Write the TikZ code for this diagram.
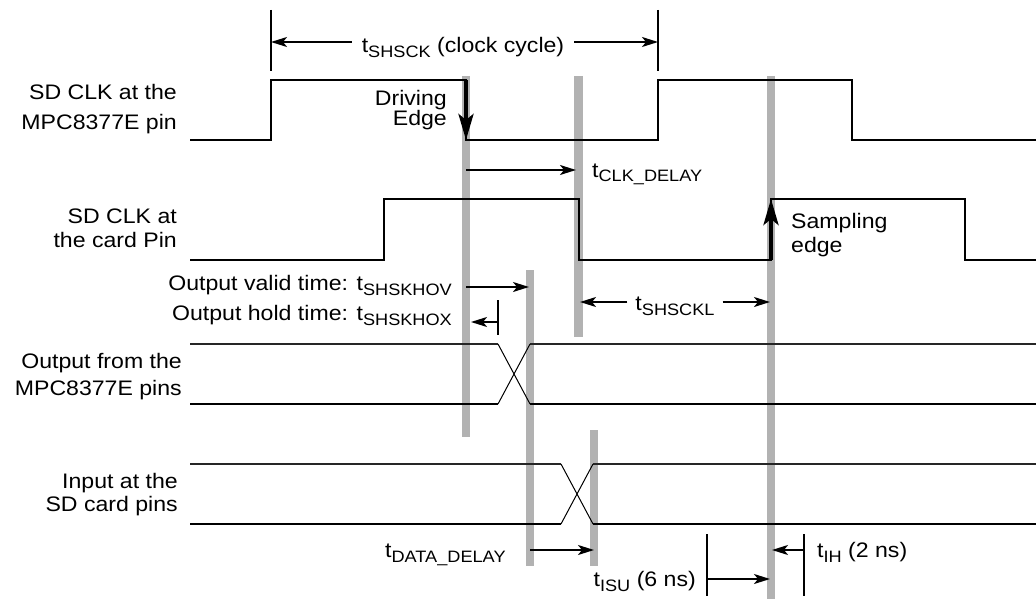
\documentclass[tikz,border=0pt]{standalone}
\usepackage{fontspec}
\setmainfont{Liberation Sans}[FakeStretch=1.1]
\usetikzlibrary{positioning,calc,arrows.meta}
\definecolor{bargray}{gray}{0.70}
\newcommand{\lblfont}{\fontsize{21}{24}\selectfont}
\newcommand{\tsub}[1]{\raisebox{-5pt}{\fontsize{16.5}{17}\selectfont #1}}
\tikzset{
  wave/.style={line width=2pt, line join=miter},
  bushi/.style={line width=1.4pt, draw=black!85},
  buslo/.style={line width=2pt},
  swap/.style={line width=1pt},
  bar/.style={line width=8.5pt, draw=bargray},
  edge arrow/.style={line width=4pt, -{Stealth[length=26pt,width=15pt,inset=6pt]}},
  dim/.style={line width=1.8pt, -{Stealth[length=16pt,width=10pt,inset=4pt]}},
  tickmark/.style={line width=2pt},
  lbl/.style={font=\lblfont, inner sep=0pt},
  sig/.style={lbl, align=right, anchor=base east},
}

\begin{document}
\begin{tikzpicture}[x=1pt,y=-1pt]
    \useasboundingbox (0,0) rectangle (1036,599);
    % gray timing marks
    \foreach \bx/\by/\be in {466/76/437, 578.5/76/337, 771/76/599, 530/270/566, 594/430/566}
    {
        \draw[bar] (\bx,\by) -- (\bx,\be);
    }

    % signal names (base = last line)
    \node[sig, font={\fontsize{21}{30}\selectfont}] (clka) at (177,130) {SD CLK at the\\MPC8377E pin};
    \node[sig, font={\fontsize{21}{24}\selectfont}] (clkb) at (177,247) {SD CLK at\\the card Pin};
    \node[sig, font={\fontsize{21}{27}\selectfont}] (dout) at (182,395) {Output from the\\MPC8377E pins};
    \node[sig, font={\fontsize{21}{23}\selectfont}] (din) at (178,511) {Input at the\\SD card pins};

    % clocks
    \draw[wave] (190,140) -- (271,140) -- (271,80) -- (466,80) -- (466,140) -- (658,140)
        -- (658,80) -- (852,80) -- (852,140) -- (1036,140);
    \draw[wave] (190,260) -- (384,260) -- (384,199) -- (578.5,199) -- (578.5,260) -- (771,260)
        -- (771,199) -- (965,199) -- (965,260) -- (1036,260);
    \draw[edge arrow] (466,80) -- (466,140);
    \draw[edge arrow] (771,260) -- (771,199);
    \node[lbl, align=right, anchor=base east, font={\fontsize{21}{17}\selectfont}] (drv) at (447,126) {Driving\\Edge};
    \node[lbl, align=left, anchor=base west] (smp) at (791,252) {Sampling\\edge};

    % data
    \draw[bushi] (190,344) -- (498,344);
    \draw[bushi] (530,344) -- (1036,344);
    \draw[buslo] (190,404) -- (498,404);
    \draw[buslo] (530,404) -- (1036,404);
    \draw[swap] (498,344) -- (530,404);
    \draw[swap] (498,404) -- (530,344);
    \draw[bushi] (190,464) -- (561,464);
    \draw[bushi] (593,464) -- (1036,464);
    \draw[buslo] (190,524) -- (561,524);
    \draw[buslo] (593,524) -- (1036,524);
    \draw[swap] (561,464) -- (593,524);
    \draw[swap] (561,524) -- (593,464);

    % clock cycle
    \coordinate (cycl) at (271,42);
    \coordinate (cycr) at (658,42);
    \draw[tickmark] (271,10) -- (271,71);
    \draw[tickmark] (658,10) -- (658,71);
    \node[lbl, anchor=base] (cyc) at (463,53) {t\tsub{SHSCK} (clock cycle)};
    \draw[dim] (cyc.west |- cycl) ++(-10,0) -- (cycl);
    \draw[dim] (cyc.east |- cycr) ++(10,0) -- (cycr);

    % clock delay
    \coordinate (dlya) at (466,170);
    \coordinate (dlyb) at (576,170);
    \draw[dim] (dlya) -- (dlyb);
    \node[lbl, anchor=base west] (clkdly) at (592,177) {t\tsub{CLK\_DELAY}};

    % output valid / hold
    \coordinate (ova) at (466,287);
    \coordinate (ovb) at (529,287);
    \coordinate (oha) at (498,322);
    \coordinate (ohb) at (471,322);
    \draw[dim] (ova) -- (ovb);
    \draw[tickmark] (498,300) -- (498,335);
    \draw[dim] (oha) -- (ohb);
    \node[lbl, anchor=base east] (ov) at (452,290) {Output valid time: t\tsub{SHSKHOV}};
    \node[lbl, anchor=base east] (oh) at (452,320) {Output hold time: t\tsub{SHSKHOX}};

    % clock low
    \coordinate (lowa) at (580,302);
    \coordinate (lowb) at (770,302);
    \node[lbl, anchor=base] (low) at (675,310) {t\tsub{SHSCKL}};
    \draw[dim] (low.west |- lowa) ++(-8,0) -- (lowa);
    \draw[dim] (low.east |- lowb) ++(8,0) -- (lowb);

    % data delay, setup, hold
    \coordinate (dda) at (530,550);
    \coordinate (ddb) at (594,550);
    \draw[dim] (dda) -- (ddb);
    \node[lbl, anchor=base west] (ddly) at (385,557) {t\tsub{DATA\_DELAY}};
    \draw[tickmark] (707,534) -- (707,596);
    \draw[tickmark] (804,534) -- (804,596);
    \coordinate (sua) at (707,579);
    \coordinate (sub) at (770,579);
    \coordinate (iha) at (804,550);
    \coordinate (ihb) at (772,550);
    \draw[dim] (sua) -- (sub);
    \draw[dim] (iha) -- (ihb);
    \node[lbl, anchor=base east] (isu) at (696,586) {t\tsub{ISU} (6 ns)};
    \node[lbl, anchor=base west] (ih) at (817,557) {t\tsub{IH} (2 ns)};
\end{tikzpicture}
\end{document}
